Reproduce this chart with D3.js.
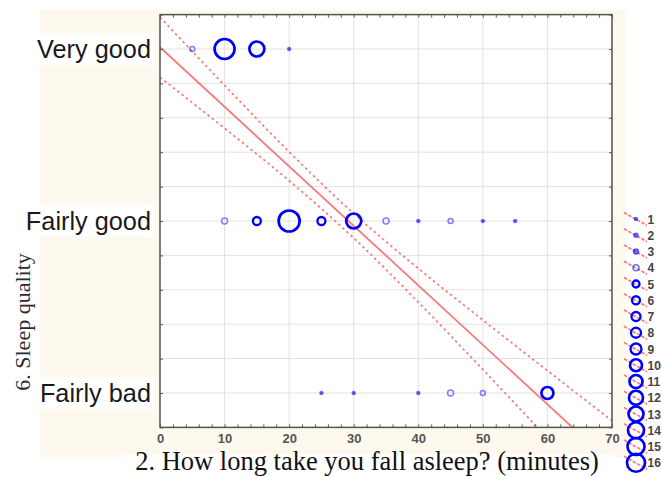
<!DOCTYPE html>
<html><head><meta charset="utf-8">
<script src="https://cdn.jsdelivr.net/npm/d3@7"></script>
<style>html,body{margin:0;padding:0;background:#fff;}svg{display:block;}</style>
</head><body>
<svg id="c" width="662" height="477"></svg>
<script>
// ---- data ----
const categories = ["Very good", "Fairly good", "Fairly bad"];
const catValues = [1, 2, 3];
const xTicks = [0, 10, 20, 30, 40, 50, 60, 70];
const pointsX =      [5, 10, 15, 20,  10, 15, 20, 25, 30, 35, 40, 45, 50, 55,  25, 30, 40, 45, 50, 60];
const pointsCat =    [1, 1, 1, 1,     2, 2, 2, 2, 2, 2, 2, 2, 2, 2,            3, 3, 3, 3, 3, 3];
const pointsCount =  [3, 18, 13, 1,   4, 6, 19, 6, 13, 4, 1, 3, 1, 1,          1, 1, 1, 4, 3, 10];
const fitX = [0, 70];
const fitY = [0.99, 3.412];
const bandX = [0, 10, 20, 30, 40, 50, 60, 70];
const bandUpper = [0.815, 1.211, 1.598, 1.957, 2.276, 2.576, 2.870, 3.161];
const bandLower = [1.165, 1.461, 1.766, 2.099, 2.472, 2.864, 3.262, 3.662];
const legendCounts = [1,2,3,4,5,6,7,8,9,10,11,12,13,14,15,16];
const xTitle = "2. How long take you fall asleep? (minutes)";
const yTitle = "6. Sleep quality";

// ---- drawing ----
const svg = d3.select("#c");
const L = 160, R = 612, T = 14.6, B = 427.4;
const x = d3.scaleLinear().domain([0, 70]).range([L, R]);
const y = d3.scaleLinear().domain([0.8, 3.2]).range([T, B]);
const r = d3.scaleLinear().domain([1, 16]).range([1.5, 9]);
const red = "#f47b7b", blue = "#0000ff";
const sw = n => n <= 4 ? 1.5 : (n >= 10 ? 2.7 : 2.3);

// backgrounds
svg.append("rect").attr("x", 40).attr("y", 10).attr("width", 585).attr("height", 447).attr("fill", "#fdf9ee");
svg.append("rect").attr("x", 625).attr("y", 0).attr("width", 37).attr("height", 477).attr("fill", "#fff");
svg.append("rect").attr("x", 124).attr("y", 454).attr("width", 490).attr("height", 23).attr("fill", "#fff");
svg.append("rect").attr("x", L).attr("y", T).attr("width", R - L).attr("height", B - T).attr("fill", "#fff");

// grid
const hGrid = d3.range(0.8, 3.2001, 0.2);
svg.append("g").selectAll("line").data(hGrid).join("line")
  .attr("x1", L).attr("x2", R).attr("y1", d => y(d)).attr("y2", d => y(d))
  .attr("stroke", "#e2e2e2").attr("stroke-width", 1);
svg.append("g").selectAll("line").data(xTicks).join("line")
  .attr("y1", T).attr("y2", B).attr("x1", d => x(d)).attr("x2", d => x(d))
  .attr("stroke", "#e2e2e2").attr("stroke-width", 1);

// clip
svg.append("clipPath").attr("id", "pc").append("rect")
  .attr("x", L).attr("y", T).attr("width", R - L).attr("height", B - T);
const pg = svg.append("g").attr("clip-path", "url(#pc)");

// fit line and bands
const line = d3.line().x(d => x(d[0])).y(d => y(d[1]));
const bandLine = d3.line().x(d => x(d[0])).y(d => y(d[1])).curve(d3.curveMonotoneX);
pg.append("path").attr("d", line(fitX.map((v, i) => [v, fitY[i]])))
  .attr("fill", "none").attr("stroke", red).attr("stroke-width", 1.8);
[bandUpper, bandLower].forEach(b => {
  pg.append("path").attr("d", bandLine(bandX.map((v, i) => [v, b[i]])))
    .attr("fill", "none").attr("stroke", red).attr("stroke-width", 1.7)
    .attr("stroke-dasharray", "2.5,3");
});

// points
const pts = pointsX.map((v, i) => ({ x: v, c: pointsCat[i], n: pointsCount[i] }));
pg.append("g").selectAll("circle").data(pts).join("circle")
  .attr("cx", d => x(d.x)).attr("cy", d => y(d.c)).attr("r", d => r(d.n))
  .attr("fill", d => d.n === 1 ? blue : "none")
  .attr("fill-opacity", 0.5)
  .attr("stroke", blue)
  .attr("stroke-opacity", d => d.n <= 4 ? 0.5 : 1)
  .attr("stroke-width", d => sw(d.n));

// frame
svg.append("rect").attr("x", L).attr("y", T).attr("width", R - L).attr("height", B - T)
  .attr("fill", "none").attr("stroke", "#555").attr("stroke-width", 1.5);

// axis ticks (inward)
const ax = d3.axisBottom(x).tickValues(d3.range(0, 70.01, 2)).tickSize(-3).tickFormat("");
const axT = d3.axisTop(x).tickValues(d3.range(0, 70.01, 2)).tickSize(-3).tickFormat("");
const ayL = d3.axisLeft(y).tickValues(hGrid).tickSize(-3).tickFormat("");
const ayR = d3.axisRight(y).tickValues(hGrid).tickSize(-3).tickFormat("");
[[ax, `translate(0,${B})`], [axT, `translate(0,${T})`], [ayL, `translate(${L},0)`], [ayR, `translate(${R},0)`]].forEach(([a, t]) => {
  const g = svg.append("g").attr("transform", t).call(a);
  g.select(".domain").remove();
  g.selectAll("line").attr("stroke", "#555");
});

// x tick labels
const xl = d3.axisBottom(x).tickValues(xTicks).tickSize(0).tickPadding(6).tickFormat(d3.format("d"));
const gx = svg.append("g").attr("transform", `translate(0,${B})`).call(xl);
gx.select(".domain").remove();
gx.selectAll("text").attr("font-family", "Liberation Sans, Arial, sans-serif")
  .attr("font-size", 13).attr("fill", "#555").attr("font-weight", "bold");

// y category labels with white boxes
const yl = svg.append("g");
categories.forEach((c, i) => {
  const t = yl.append("text").attr("x", 151).attr("y", y(catValues[i]) + 9)
    .attr("text-anchor", "end").attr("font-family", "Liberation Sans, Arial, sans-serif")
    .attr("font-size", 25.3).attr("fill", "#1a1a1a").text(c);
  const bb = t.node().getBBox();
  yl.insert("rect", "text").attr("x", bb.x - 3).attr("y", bb.y - 2).attr("width", bb.width + 5)
    .attr("height", bb.height + 4).attr("fill", "#fff");
});

// axis titles
svg.append("text").attr("x", 367).attr("y", 470).attr("text-anchor", "middle")
  .attr("font-family", "Liberation Serif, Times New Roman, serif").attr("font-size", 26.5)
  .attr("fill", "#111").text(xTitle);
svg.append("text").attr("transform", "translate(30,322) rotate(-90)").attr("text-anchor", "middle")
  .attr("font-family", "Liberation Serif, Times New Roman, serif").attr("font-size", 22)
  .attr("fill", "#2a2a30").text(yTitle);

// legend
const lg = svg.append("g");
legendCounts.forEach((n, i) => {
  const cy = 219 + i * 16.25;
  lg.append("line").attr("x1", 624).attr("x2", 647).attr("y1", cy - 6.5).attr("y2", cy + 6.5)
    .attr("stroke", red).attr("stroke-width", 1.7).attr("stroke-dasharray", "3.5,1.5");
  lg.append("circle").attr("cx", 636).attr("cy", cy).attr("r", r(n))
    .attr("fill", n <= 3 ? blue : "none").attr("fill-opacity", 0.5)
    .attr("stroke", blue).attr("stroke-opacity", n <= 4 ? 0.55 : 1)
    .attr("stroke-width", sw(n));
  lg.append("text").attr("x", 647.5).attr("y", cy + 4.5)
    .attr("font-family", "Liberation Sans, Arial, sans-serif").attr("font-size", 12)
    .attr("font-weight", "bold").attr("fill", "#444").text(n);
});
</script>
</body></html>
